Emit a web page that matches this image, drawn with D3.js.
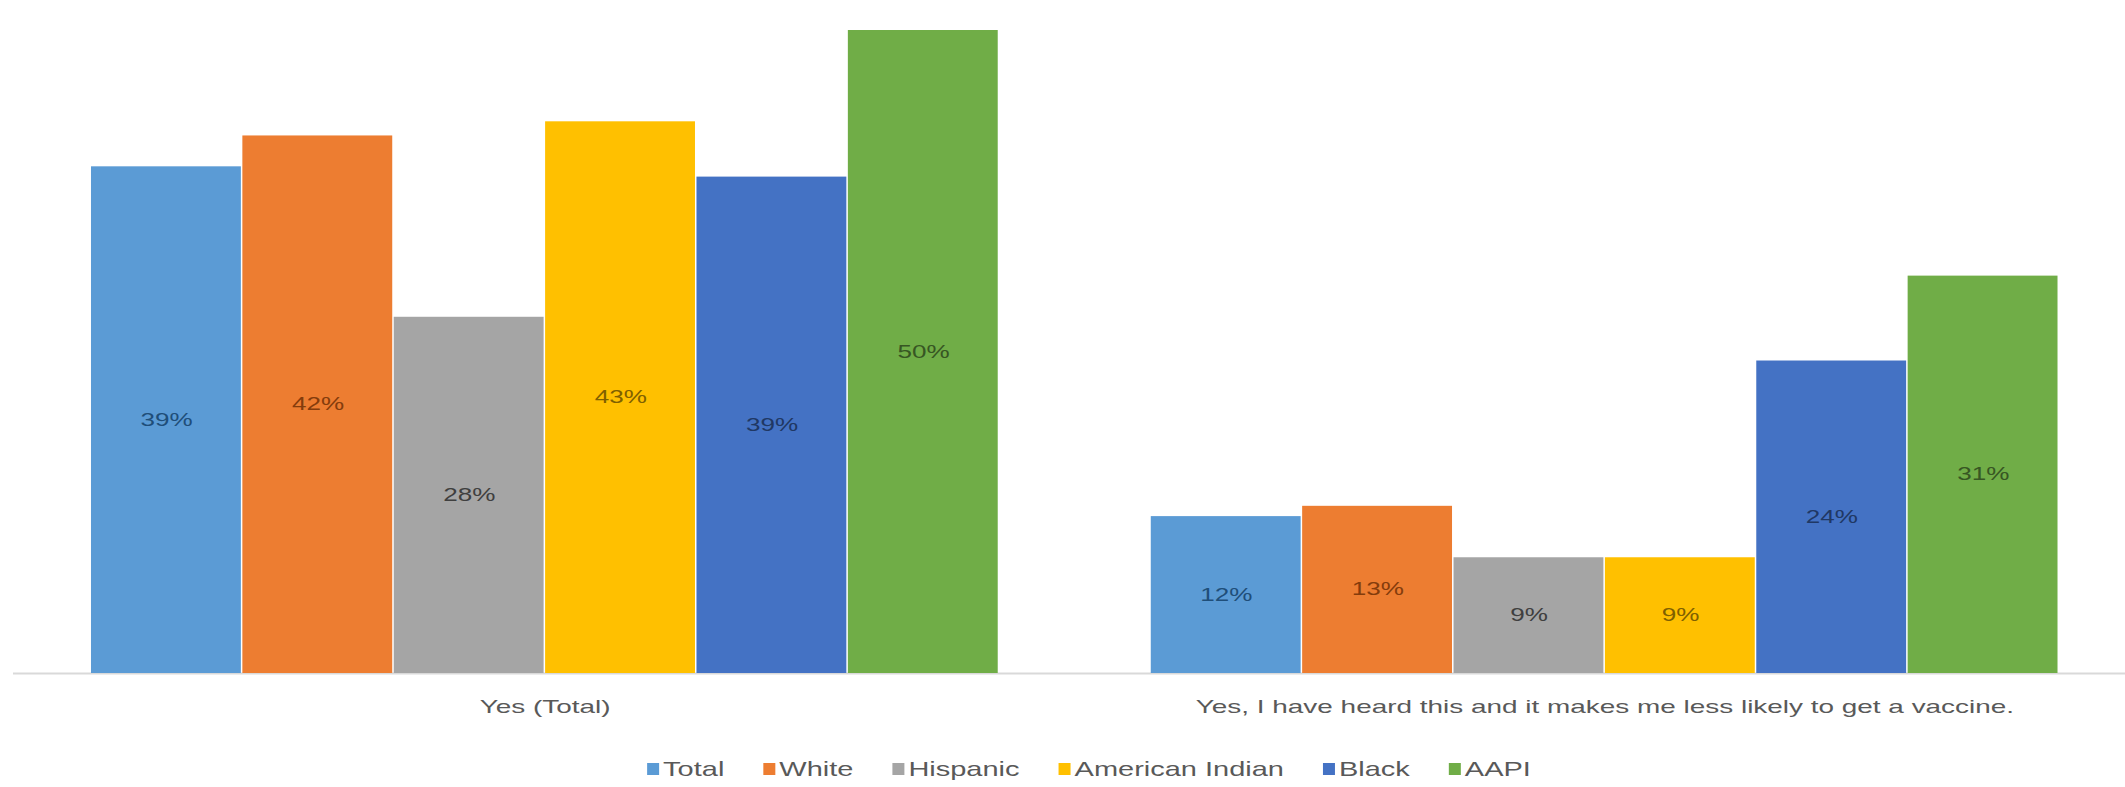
<!DOCTYPE html>
<html>
<head>
<meta charset="utf-8">
<script src="https://cdn.jsdelivr.net/npm/d3@7"></script>
<style>
  html, body { margin: 0; padding: 0; background: #ffffff; }
  svg { display: block; }
  text { font-family: "Liberation Sans", Arial, sans-serif; }
</style>
</head>
<body>
<svg id="chart" width="2125" height="787"></svg>
<script>
// ---- data ----
const categories = ["Yes (Total)", "Yes, I have heard this and it makes me less likely to get a vaccine."];
const seriesNames = ["Total", "White", "Hispanic", "American Indian", "Black", "AAPI"];
const totalValues = [0.394, 0.122];
const whiteValues = [0.418, 0.130];
const hispanicValues = [0.277, 0.090];
const americanIndianValues = [0.429, 0.090];
const blackValues = [0.386, 0.243];
const aapiValues = [0.500, 0.309];
const seriesColors = ["#5B9BD5", "#ED7D31", "#A5A5A5", "#FFC000", "#4472C4", "#70AD47"];
const labelColors = ["#1F4E79", "#843C0C", "#3F3F3F", "#7F6000", "#203864", "#375623"];

const seriesValues = [totalValues, whiteValues, hispanicValues, americanIndianValues, blackValues, aapiValues];
const series = seriesNames.map((name, i) => ({ name, values: seriesValues[i], color: seriesColors[i], labelColor: labelColors[i] }));

// ---- layout ----
const svg = d3.select("#chart");
const baseline = 673;
const stretch = 1.45;

const x0 = d3.scaleBand().domain(categories).range([15, 2135]).paddingInner(0.143).paddingOuter(0.0717);
const x1 = d3.scaleBand().domain(seriesNames).range([0, x0.bandwidth()]).padding(0);
const y = d3.scaleLinear().domain([0, 0.5]).range([baseline, 30]);
const fmt = d3.format(".0%");

// axis line
svg.append("line")
  .attr("x1", 13).attr("x2", 2125)
  .attr("y1", baseline + 0.5).attr("y2", baseline + 0.5)
  .attr("stroke", "#D9D9D9").attr("stroke-width", 2);

// bars
const groups = svg.selectAll("g.grp").data(categories).join("g")
  .attr("class", "grp")
  .attr("transform", d => `translate(${x0(d)},0)`);

groups.each(function(cat, ci) {
  const g = d3.select(this);
  series.forEach(s => {
    const v = s.values[ci];
    g.append("rect")
      .attr("x", x1(s.name))
      .attr("width", x1.bandwidth() - 1.5)
      .attr("y", y(v))
      .attr("height", baseline - y(v))
      .attr("fill", s.color);
    const cx = x1(s.name) + x1.bandwidth() / 2;
    const cy = (y(v) + baseline) / 2;
    g.append("text")
      .attr("transform", `translate(${cx},${cy + 6}) scale(${stretch},1)`)
      .attr("text-anchor", "middle")
      .attr("font-size", 18)
      .attr("fill", s.labelColor)
      .text(fmt(v));
  });
});

// category axis labels
svg.selectAll("text.cat").data(categories).join("text")
  .attr("class", "cat")
  .attr("transform", d => `translate(${x0(d) + x0.bandwidth() / 2},713) scale(1.47,1)`)
  .attr("text-anchor", "middle")
  .attr("font-size", 19)
  .attr("fill", "#595959")
  .text(d => d);

// legend
const legend = svg.append("g");
const legendY = 770;
const gap = 39;
let cursor = 0;
series.forEach(s => {
  const it = legend.append("g");
  it.append("rect").attr("x", 0).attr("y", legendY - 7).attr("width", 12).attr("height", 12).attr("fill", s.color);
  const t = it.append("text")
    .attr("transform", `translate(16,${legendY + 6}) scale(${stretch},1)`)
    .attr("font-size", 20)
    .attr("fill", "#595959")
    .text(s.name);
  const w = 16 + t.node().getComputedTextLength() * stretch;
  it.attr("transform", `translate(${cursor},0)`);
  cursor += w + gap;
});
const legendWidth = cursor - gap;
legend.attr("transform", `translate(${1089 - legendWidth / 2},0)`);
</script>
</body>
</html>
